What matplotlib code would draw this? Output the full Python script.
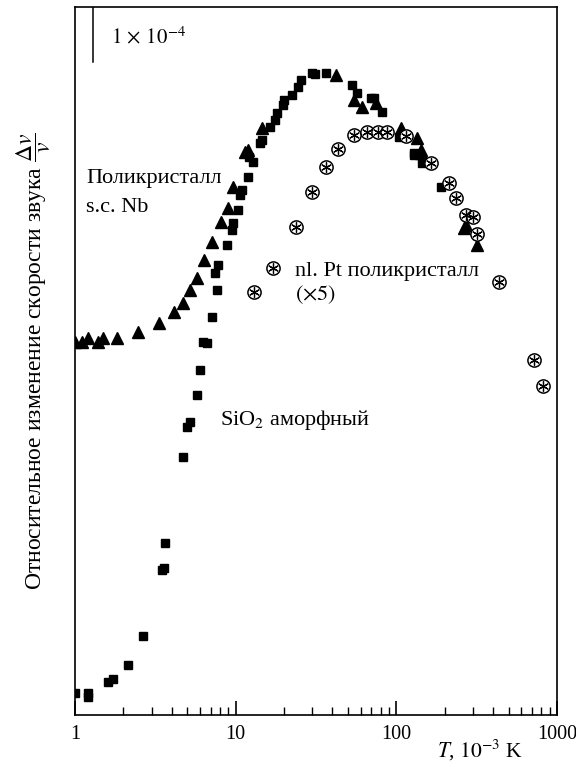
import matplotlib
matplotlib.use('Agg')
import matplotlib.pyplot as plt
from matplotlib.ticker import FixedLocator, FixedFormatter, LogLocator, NullFormatter

plt.rcParams['font.family'] = ['Liberation Serif', 'DejaVu Serif']
plt.rcParams['mathtext.fontset'] = 'stix'

# temperature in 10^-3 K, velocity change in units of 1e-4
sio2_T = [1.0, 1.204, 1.204, 1.60, 1.72, 2.13, 2.64, 3.47, 3.57, 3.62, 4.69, 4.96,
          5.18, 5.72, 5.97, 6.24, 6.61, 7.10, 7.62, 7.41, 7.73, 8.79, 9.44, 9.58,
          10.3, 10.6, 10.9, 11.9, 12.2, 12.8, 14.1, 14.7, 16.3, 17.5, 18.2, 19.6,
          20.1, 22.3, 24.3, 25.7, 30.1, 31.0, 36.7, 53.3, 57.3, 69.9, 73.0, 81.9,
          104, 129, 129, 145, 190]
sio2_dv = [0.40, 0.40, 0.33, 0.60, 0.65, 0.91, 1.44, 2.64, 2.67, 3.13, 4.69, 5.24,
           5.33, 5.82, 6.27, 6.78, 6.76, 7.24, 7.73, 8.04, 8.18, 8.55, 8.82, 8.95,
           9.18, 9.45, 9.55, 9.78, 10.15, 10.05, 10.40, 10.45, 10.69, 10.82, 10.95, 11.09,
           11.18, 11.27, 11.42, 11.55, 11.67, 11.65, 11.67, 11.45, 11.31, 11.22, 11.22, 10.96,
           10.51, 10.22, 10.18, 10.04, 9.60]

nb_T = [1.0, 1.105, 1.204, 1.39, 1.49, 1.82, 2.46, 3.32, 4.12, 4.69, 5.18, 5.72,
        6.33, 7.10, 8.07, 8.92, 9.58, 11.4, 11.9, 14.5, 42.4, 54.8, 61.5, 75.1,
        107, 135, 143, 143, 264, 272, 318]
nb_dv = [6.78, 6.78, 6.85, 6.78, 6.85, 6.85, 6.96, 7.13, 7.33, 7.49, 7.73, 7.95,
         8.27, 8.60, 8.96, 9.22, 9.60, 10.24, 10.27, 10.67, 11.64, 11.18, 11.05, 11.13,
         10.67, 10.49, 10.27, 10.22, 8.85, 8.91, 8.55]

pt_T = [13.1, 17.0, 23.9, 30.1, 36.7, 43.6, 54.8, 66.0, 77.3, 87.9, 115, 165,
        213, 236, 272, 301, 318, 436, 720, 819]
pt_dv = [7.69, 8.13, 8.87, 9.51, 9.96, 10.29, 10.55, 10.60, 10.60, 10.60, 10.53, 10.04,
         9.67, 9.40, 9.09, 9.05, 8.75, 7.87, 6.45, 5.98]

xticks = [1, 10, 100, 1000]
xtick_labels = ['1', '10', '100', '1000']

fig = plt.figure(figsize=(5.76, 7.67), dpi=100)
ax = fig.add_axes([0.130, 0.0678, 0.837, 0.9231])

ax.plot(sio2_T, sio2_dv, 's', color='black', markersize=6.3, linestyle='none')
ax.plot(nb_T, nb_dv, '^', color='black', markersize=8.5, linestyle='none')
# circled asterisk: open circle plus six spokes
ax.plot(pt_T, pt_dv, 'o', markerfacecolor='white', markeredgecolor='black',
        markeredgewidth=1.1, markersize=9.5, linestyle='none')
ax.plot(pt_T, pt_dv, marker=(6, 2, 0), color='black', markeredgewidth=0.9,
        markersize=7.5, linestyle='none')

ax.set_xscale('log')
ax.set_xlim(1, 1000)
ax.set_ylim(0, 708 / 55)

ax.xaxis.set_major_locator(FixedLocator(xticks))
ax.xaxis.set_major_formatter(FixedFormatter(xtick_labels))
ax.xaxis.set_minor_locator(LogLocator(base=10, subs=range(2, 10)))
ax.xaxis.set_minor_formatter(NullFormatter())
ax.tick_params(axis='x', which='major', direction='in', length=10, width=1.2,
               labelsize=14.5, pad=7)
ax.tick_params(axis='x', which='minor', direction='in', length=6, width=1)
ax.set_yticks([])
for s in ax.spines.values():
    s.set_linewidth(1.2)

# 1e-4 scale bar
ytop = 708 / 55
ax.plot([1.29, 1.29], [ytop, ytop - 1], color='black', linewidth=1.1)
ax.text(1.68, ytop - 0.55, r'$1\,\times\,10^{-4}$', fontsize=15, va='center', ha='left')

ax.text(1.18, 9.76, 'Поликристалл', fontsize=16, va='center', ha='left')
ax.text(1.18, 9.22, 's.c. Nb', fontsize=16, va='center', ha='left')
ax.text(23.5, 8.07, 'nl. Pt поликристалл', fontsize=16, va='center', ha='left')
ax.text(23.5, 7.64, r'$(\times 5)$', fontsize=16, va='center', ha='left')
ax.text(8.0, 5.36, r'SiO$_2$ аморфный', fontsize=16, va='center', ha='left')

ax.set_ylabel(r'Относительное изменение скорости звука $\dfrac{\Delta v}{v}$',
              fontsize=17)
ax.yaxis.set_label_coords(-0.045, 0.5)
ax.text(0.84, -0.05, r'$T$, $10^{-3}$ K', transform=ax.transAxes, fontsize=15.5,
        ha='center', va='center')

fig.savefig('out.png', dpi=100)
